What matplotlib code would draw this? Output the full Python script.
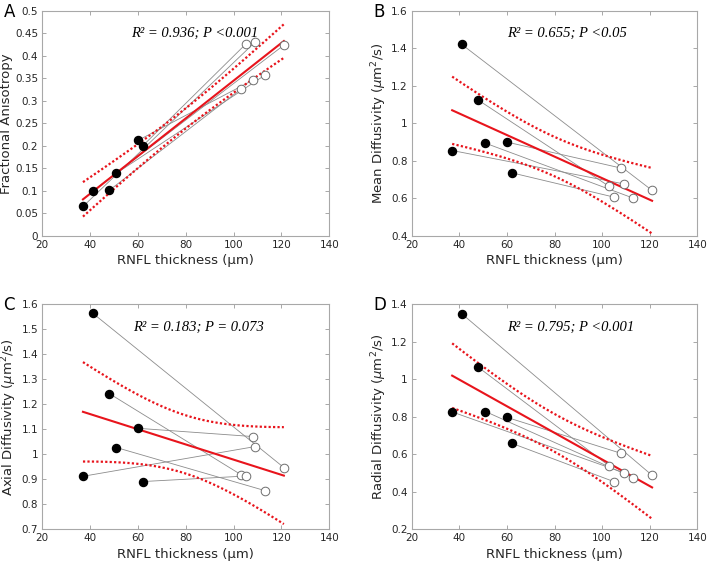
import numpy as np
import matplotlib
matplotlib.use("Agg")
import matplotlib.pyplot as plt
from matplotlib.ticker import FuncFormatter

# RNFL thickness, patients (filled) and paired controls (open)
patient_x = [37, 41, 48, 51, 60, 62]
control_x = [109, 121, 103, 113, 108, 105]

# panel values, same order as the x lists above
fa_patient = [0.065, 0.099, 0.101, 0.139, 0.212, 0.200]
fa_control = [0.431, 0.424, 0.326, 0.357, 0.346, 0.426]

md_patient = [0.855, 1.422, 1.124, 0.894, 0.900, 0.736]
md_control = [0.677, 0.642, 0.663, 0.601, 0.761, 0.606]

ad_patient = [0.912, 1.565, 1.243, 1.027, 1.104, 0.891]
ad_control = [1.031, 0.947, 0.919, 0.855, 1.071, 0.913]

rd_patient = [0.826, 1.350, 1.064, 0.828, 0.797, 0.659]
rd_control = [0.502, 0.488, 0.538, 0.476, 0.605, 0.454]

panel_letters = ["A", "B", "C", "D"]
ylabels = ["Fractional Anisotropy",
           r"Mean Diffusivity ($\mu$m$^2$/s)",
           r"Axial Diffusivity ($\mu$m$^2$/s)",
           r"Radial Diffusivity ($\mu$m$^2$/s)"]
stats_text = ["R² = 0.936; P <0.001",
              "R² = 0.655; P <0.05",
              "R² = 0.183; P = 0.073",
              "R² = 0.795; P <0.001"]
ylims = [(0, 0.5), (0.4, 1.6), (0.7, 1.6), (0.2, 1.4)]
ysteps = [0.05, 0.2, 0.1, 0.2]
text_pos = [(57, 0.45), (60, 1.48), (58, 1.507), (60, 1.276)]

T_CRIT = 2.228  # t(0.975, df=10)

RED = "#e8141c"
GRID_GRAY = "#a8a8a8"
TEXT_GRAY = "#262626"


def fmt(v, pos):
    return f"{round(v, 4):g}"


def draw_panel(ax, py, cy, letter, ylabel, stat, ylim, ystep, tpos):
    px = np.array(patient_x, float)
    cx = np.array(control_x, float)
    py = np.array(py)
    cy = np.array(cy)

    # paired lines
    for i in range(len(px)):
        ax.plot([px[i], cx[i]], [py[i], cy[i]], color="#8c8c8c", lw=0.6, zorder=1)

    # regression on all points with 95% CI of the mean
    x = np.concatenate([px, cx])
    y = np.concatenate([py, cy])
    n = len(x)
    b, a = np.polyfit(x, y, 1)
    resid = y - (a + b * x)
    s = np.sqrt(np.sum(resid ** 2) / (n - 2))
    sxx = np.sum((x - x.mean()) ** 2)
    xf = np.linspace(x.min(), x.max(), 100)
    yf = a + b * xf
    half = T_CRIT * s * np.sqrt(1 / n + (xf - x.mean()) ** 2 / sxx)
    ax.plot(xf, yf, color=RED, lw=1.5, zorder=2)
    ax.plot(xf, yf + half, color=RED, lw=1.6, ls=(0, (1, 1)), zorder=2)
    ax.plot(xf, yf - half, color=RED, lw=1.6, ls=(0, (1, 1)), zorder=2)

    ax.plot(px, py, "o", color="black", ms=5.8, zorder=3)
    ax.plot(cx, cy, "o", mfc="white", mec="#6e6e6e", mew=0.7, ms=6.2, zorder=3)

    ax.set_xlim(20, 140)
    ax.set_ylim(*ylim)
    ax.set_xticks(np.arange(20, 141, 20))
    ax.set_yticks(np.arange(ylim[0], ylim[1] + ystep / 2, ystep))
    ax.yaxis.set_major_formatter(FuncFormatter(fmt))
    ax.tick_params(direction="in", top=True, right=True, length=3, width=0.7,
                   color=GRID_GRAY, labelcolor=TEXT_GRAY, labelsize=7.5, pad=3)
    for sp in ax.spines.values():
        sp.set_color(GRID_GRAY)
        sp.set_linewidth(0.8)

    ax.set_xlabel("RNFL thickness (µm)", fontsize=9.5, color=TEXT_GRAY, labelpad=3)
    ax.set_ylabel(ylabel, fontsize=9.5, color=TEXT_GRAY, labelpad=1.5)
    ax.text(tpos[0], tpos[1], stat, fontsize=10.5, family="Liberation Serif",
            style="italic", va="center", ha="left", color="black")
    ax.text(-0.135, 0.995, letter, transform=ax.transAxes, fontsize=12,
            va="center", ha="left", color="black")


fig = plt.figure(figsize=(7.08, 5.64), dpi=100)
W, H = 708, 564
boxes = [(42.3, 11, 329.3, 235.7), (411.7, 11, 697.3, 235.7),
         (42.3, 304.3, 329.3, 529.3), (411.7, 304.3, 697.3, 529.3)]
data = [(fa_patient, fa_control), (md_patient, md_control),
        (ad_patient, ad_control), (rd_patient, rd_control)]

for k, (x0, y0, x1, y1) in enumerate(boxes):
    ax = fig.add_axes([x0 / W, 1 - y1 / H, (x1 - x0) / W, (y1 - y0) / H])
    draw_panel(ax, data[k][0], data[k][1], panel_letters[k], ylabels[k],
               stats_text[k], ylims[k], ysteps[k], text_pos[k])

fig.savefig("out.png", dpi=100)
